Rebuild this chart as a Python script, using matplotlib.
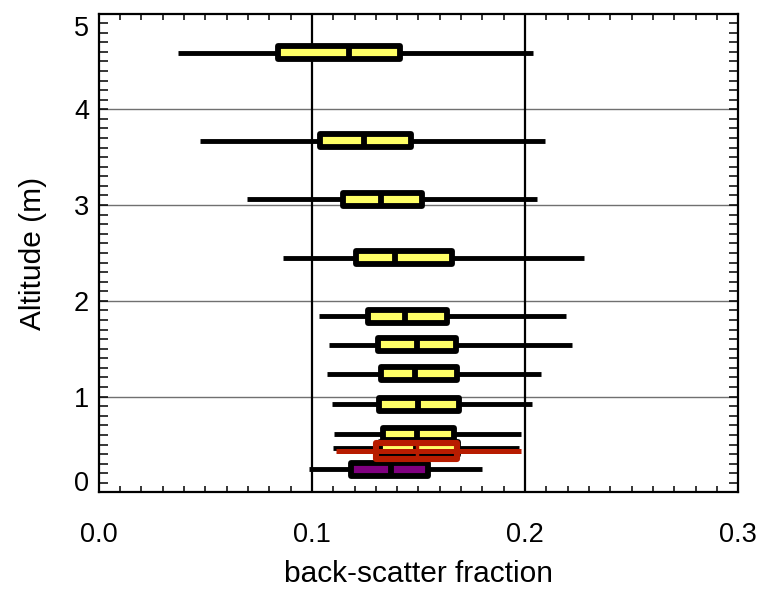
import numpy as np
import matplotlib
matplotlib.use('Agg')
import matplotlib.pyplot as plt
from matplotlib.ticker import MultipleLocator
from matplotlib.transforms import ScaledTranslation

plt.rcParams['font.family'] = ['Liberation Sans', 'DejaVu Sans']

# ── data ──────────────────────────────────────────────────────────────────────
altitude   = [4.59, 3.67, 3.06, 2.45, 1.84, 1.54, 1.24, 0.92, 0.61, 0.46, 0.24]
whis_lo    = [0.0370, 0.0477, 0.0698, 0.0866, 0.1034, 0.1079, 0.1073, 0.1093, 0.1105, 0.1098, 0.0987]
q1         = [0.0842, 0.1038, 0.1146, 0.1209, 0.1265, 0.1308, 0.1322, 0.1316, 0.1334, 0.1320, 0.1184]
median     = [0.1174, 0.1245, 0.1326, 0.1391, 0.1439, 0.1492, 0.1484, 0.1498, 0.1492, 0.1487, 0.1373]
q3         = [0.1413, 0.1464, 0.1515, 0.1658, 0.1636, 0.1674, 0.1680, 0.1688, 0.1666, 0.1686, 0.1547]
whis_hi    = [0.2038, 0.2095, 0.2057, 0.2278, 0.2192, 0.2218, 0.2077, 0.2034, 0.1982, 0.1970, 0.1800]
box_colors = ['#FFFF66'] * 10 + ['#800080']

# red overlay box near the ground
red_alt    = 0.435
red_whis   = [0.1111, 0.1981]
red_q      = [0.1300, 0.1680]
red_median = 0.1495

RED = '#B81C00'
BOX_H = 0.135

fig = plt.figure(figsize=(7.65, 5.9), dpi=100)
ax = fig.add_axes([0.129, 0.1654, 0.836, 0.8117])

# reference lines
for yy in [1, 2, 3, 4]:
    ax.axhline(yy, color='#707070', linewidth=1.0, zorder=1)
for xx in [0.1, 0.2]:
    ax.axvline(xx, color='black', linewidth=1.6, zorder=1)

# ── boxes ─────────────────────────────────────────────────────────────────────
ax.hlines(altitude, whis_lo, whis_hi, color='black', linewidth=3.5, zorder=2)
widths = np.array(q3) - np.array(q1)
bars = ax.barh(altitude, widths, left=q1, height=BOX_H, color=box_colors,
               edgecolor='black', linewidth=4.2, zorder=3)
for b in bars:
    b.set_joinstyle('round')
alt = np.array(altitude)
ax.vlines(median, alt - BOX_H / 2, alt + BOX_H / 2, color='black',
          linewidth=4.2, zorder=4)

# red one on top
ax.hlines(red_alt, red_whis[0], red_whis[1], color=RED, linewidth=3.6, zorder=5)
rb = ax.barh(red_alt, red_q[1] - red_q[0], left=red_q[0], height=0.17,
             facecolor='none', edgecolor=RED, linewidth=4.4, zorder=6)
rb[0].set_joinstyle('round')
ax.vlines(red_median, red_alt - 0.085, red_alt + 0.085, color=RED,
          linewidth=2.5, zorder=6)

# ── axes ──────────────────────────────────────────────────────────────────────
ax.set_xlim(0, 0.3)
ax.set_ylim(0, 5)
ax.set_xticks([0.0, 0.1, 0.2, 0.3])
ax.set_xticklabels(['0.0', '0.1', '0.2', '0.3'])
ax.xaxis.set_minor_locator(MultipleLocator(0.01))
ax.set_yticks([0, 1, 2, 3, 4, 5])
ax.yaxis.set_minor_locator(MultipleLocator(0.1))

ax.tick_params(axis='x', which='both', direction='in', top=True, bottom=True,
               length=4.3, width=1.1, labelsize=19.5, pad=21)
ax.tick_params(axis='y', which='both', direction='in', left=True, right=True,
               length=6.5, width=1.1, labelsize=19.5, pad=7)
for s in ax.spines.values():
    s.set_linewidth(1.6)

# IDL-style: end labels kept inside the axis range
ylabels = ax.get_yticklabels()
ylabels[0].set_transform(ylabels[0].get_transform() +
                         ScaledTranslation(0, 8 / 72, fig.dpi_scale_trans))
ylabels[-1].set_transform(ylabels[-1].get_transform() +
                          ScaledTranslation(0, -9 / 72, fig.dpi_scale_trans))

ax.set_xlabel('back-scatter fraction', fontsize=21.5, labelpad=9)
ax.set_ylabel('Altitude (m)', fontsize=21.5, labelpad=19)

fig.savefig('out.png', dpi=100, facecolor='white')
